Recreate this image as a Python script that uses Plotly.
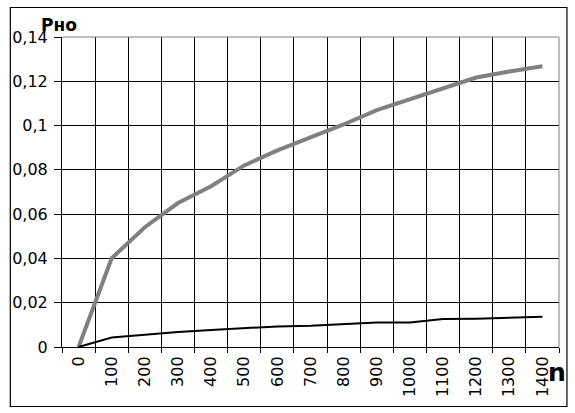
import plotly.graph_objects as go

categories = ["0", "100", "200", "300", "400", "500", "600", "700", "800",
              "900", "1000", "1100", "1200", "1300", "1400"]
gray_series = [0, 0.0401, 0.0541, 0.065, 0.0726, 0.082, 0.0888, 0.0947, 0.1005,
               0.1070, 0.1118, 0.1170, 0.1217, 0.1244, 0.1268]
black_series = [0, 0.0043, 0.0055, 0.0068, 0.0077, 0.0084, 0.0093, 0.0096, 0.0104,
                0.0111, 0.0111, 0.0126, 0.0128, 0.0134, 0.0137]
y_tickvals = [0, 0.02, 0.04, 0.06, 0.08, 0.1, 0.12, 0.14]
y_ticktext = ["0", "0,02", "0,04", "0,06", "0,08", "0,1", "0,12", "0,14"]
y_title = "Рно"
x_title = "n"

font_family = "DejaVu Sans"

fig = go.Figure()
fig.add_trace(go.Scatter(x=categories, y=gray_series, mode="lines",
                         line=dict(color="#808080", width=4), showlegend=False,
                         hoverinfo="skip"))
fig.add_trace(go.Scatter(x=categories, y=black_series, mode="lines",
                         line=dict(color="#000000", width=2), showlegend=False,
                         hoverinfo="skip"))

fig.update_layout(
    width=575, height=413, autosize=False,
    margin=dict(l=59, r=16, t=37, b=66),
    paper_bgcolor="white", plot_bgcolor="white",
    font=dict(family=font_family, size=16, color="black"),
    showlegend=False,
    xaxis=dict(type="category", range=[-0.5, 14.5], tickson="boundaries",
               showgrid=True, gridcolor="black", gridwidth=1,
               ticks="outside", ticklen=5, tickcolor="black", tickwidth=1,
               tickangle=-90, showline=True, linecolor="black", linewidth=1,
               ticklabelstandoff=2,
               tickfont=dict(family=font_family, size=16, color="black")),
    yaxis=dict(range=[0, 0.14], tickvals=y_tickvals, ticktext=y_ticktext,
               showgrid=True, gridcolor="black", gridwidth=1, zeroline=False,
               ticks="outside", ticklen=7, tickcolor="black", tickwidth=1,
               ticklabelstandoff=3,
               showline=True, linecolor="black", linewidth=1,
               tickfont=dict(family=font_family, size=16, color="black")),
    shapes=[
        dict(type="line", xref="x domain", yref="y domain", x0=0, x1=1, y0=1, y1=1,
             line=dict(color="#808080", width=1), layer="above"),
        dict(type="line", xref="x domain", yref="y domain", x0=1, x1=1, y0=0, y1=1,
             line=dict(color="#808080", width=1), layer="above"),
        dict(type="rect", xref="paper", yref="paper",
             x0=-52 / 500, x1=508 / 500, y0=-59.5 / 310, y1=(310 + 29.5) / 310,
             line=dict(color="black", width=1.2), fillcolor="rgba(0,0,0,0)", layer="above"),
    ],
    annotations=[
        dict(text="<b>" + y_title + "</b>", xref="paper", yref="paper",
             x=-23 / 500, y=(310 + 12) / 310, xanchor="left", yanchor="middle",
             showarrow=False, font=dict(family=font_family, size=17, color="black")),
        dict(text="<b>" + x_title + "</b>", xref="paper", yref="paper",
             x=498 / 500, y=-25 / 310, xanchor="center", yanchor="middle",
             showarrow=False, font=dict(family=font_family, size=25, color="black")),
    ],
)

fig.write_html("out.html", config={"displayModeBar": False},
               post_script="document.body.style.margin='0';")
